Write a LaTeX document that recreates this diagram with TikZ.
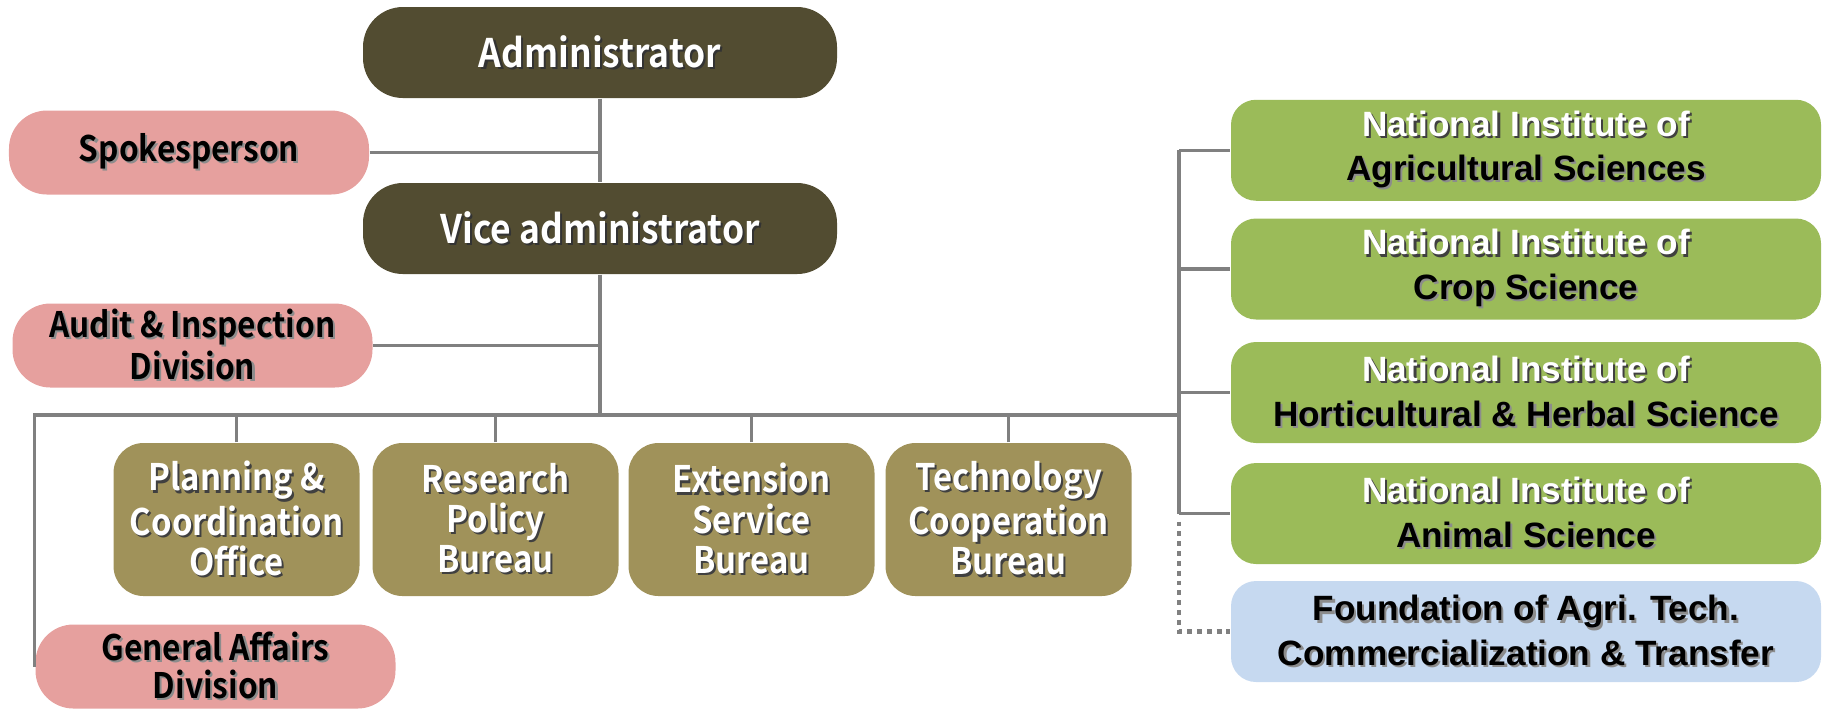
\documentclass[tikz,border=0pt]{standalone}
\usepackage{fontspec}
\usepackage{xcolor}
\usepackage{tikz}
\usetikzlibrary{positioning, calc}

\setmainfont{Liberation Sans}
\newfontfamily\korean{Noto Sans CJK KR}[BoldFont={Noto Sans CJK KR Bold}, FakeStretch=0.9]

\definecolor{headbrown}{HTML}{524C31}
\definecolor{bureaubrown}{HTML}{A0925A}
\definecolor{staffpink}{HTML}{E6A09E}
\definecolor{instgreen}{HTML}{9BBB59}
\definecolor{fndblue}{HTML}{C6D9F0}
\definecolor{linegray}{HTML}{808080}
\colorlet{shade}{black!45}

% text with a small drop shadow
\newcommand{\sh}[1]{\leavevmode\rlap{\kern0.6pt\raisebox{-0.6pt}{\textcolor{shade}{#1}}}#1}
\newcommand{\wline}[1]{{\color{white}\colorlet{shade}{black!75}\sh{#1}}}

\begin{document}
\begin{tikzpicture}[
    head/.style={rectangle, rounded corners=0.4cm, fill=headbrown, text=white, inner sep=0pt,
        minimum width=4.74cm, minimum height=0.91cm,
        font=\korean\bfseries\fontsize{11.2}{13}\selectfont\colorlet{shade}{black!80}},
    staff/.style={rectangle, rounded corners=0.38cm, fill=staffpink, text=black, inner sep=0pt,
        minimum width=3.6cm, minimum height=0.84cm, align=center,
        font=\korean\bfseries\fontsize{10}{10.8}\selectfont},
    bureau/.style={rectangle, rounded corners=0.3cm, fill=bureaubrown, text=white, inner sep=0pt,
        minimum width=2.46cm, minimum height=1.53cm, align=center,
        font=\korean\bfseries\fontsize{10.4}{11.4}\selectfont\colorlet{shade}{black!75}},
    inst/.style={rectangle, rounded corners=0.25cm, fill=instgreen, text=black, inner sep=0pt,
        minimum width=5.9cm, minimum height=1.01cm, align=center,
        font=\bfseries\fontsize{10}{12.6}\selectfont},
    fnd/.style={inst, fill=fndblue},
    link/.style={draw=linegray, line width=0.9pt},
    loose/.style={draw=linegray, line width=1.4pt, dash pattern=on 1.4pt off 1.4pt}
]
\useasboundingbox (0,0) rectangle (18.22,-7.09);

% Top of the chart
\node[head] (admin) at (6.00,-0.525) {\sh{Administrator}};
\node[staff] (spokes) at (1.89,-1.525) {\sh{Spokesperson}};
\node[head] (vice) at (6.00,-2.285) {\sh{Vice administrator}};
\node[staff] (audit) at (1.925,-3.455) {\sh{Audit \& Inspection}\\\sh{Division}};

% Bureaus under the vice administrator
\node[bureau] (plan) at (2.365,-5.195) {\sh{Planning \&}\\\sh{Coordination}\\\sh{Office}};
\node[bureau] (research) at (4.955,-5.195) {\sh{Research}\\\sh{Policy}\\\sh{Bureau}};
\node[bureau] (ext) at (7.515,-5.195) {\sh{Extension}\\\sh{Service}\\\sh{Bureau}};
\node[bureau] (tech) at (10.085,-5.195) {\sh{Technology}\\\sh{Cooperation}\\\sh{Bureau}};
\node[staff] (genaff) at (2.155,-6.665) {\sh{General Affairs}\\\sh{Division}};

% Institutes
\node[inst] (agri) at (15.26,-1.5025) {\wline{National Institute of}\\\sh{Agricultural Sciences}};
\node[inst] (crop) at (15.26,-2.69) {\wline{National Institute of}\\\sh{Crop Science}};
\node[inst] (hort) at (15.26,-3.925) {\wline{National Institute of}\\\sh{Horticultural \& Herbal Science}};
\node[inst] (anim) at (15.26,-5.135) {\wline{National Institute of}\\\sh{Animal Science}};
\node[fnd] (fnd) at (15.26,-6.315) {\sh{Foundation of Agri. Tech.}\\\sh{Commercialization \& Transfer}};

\coordinate (hub) at (6.00,-4.15);
\coordinate (spine) at (11.79,-4.15);

% Lines
\draw[link] (admin) -- (vice);
\draw[link] (spokes.east) -- (spokes.east -| admin.south);
\draw[link] (audit.east) -- (audit.east -| vice.south);
\draw[link] (vice.south) -- (hub);
\draw[link] (genaff.west) -- (genaff.west |- hub) -- (spine);
\foreach \b in {plan, research, ext, tech}
    \draw[link] (\b.north) -- (\b.north |- hub);
\draw[link] (spine |- agri) -- (spine |- anim);
\foreach \i in {agri, crop, hort, anim}
    \draw[link] (spine |- \i) -- (\i.west);
\draw[loose] ($(spine |- anim)+(0,-0.08)$) -- (spine |- fnd) -- (fnd.west);
\end{tikzpicture}
\end{document}
